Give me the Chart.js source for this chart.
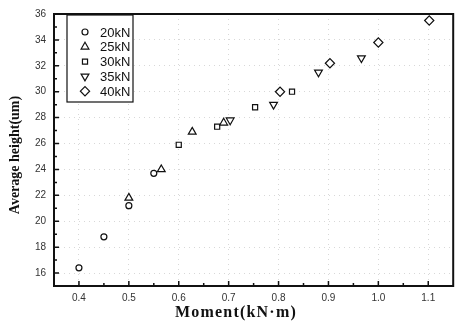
<!DOCTYPE html>
<html>
<head>
<meta charset="utf-8">
<script src="https://cdn.jsdelivr.net/npm/chart.js@4"></script>
<style>
  html, body { margin: 0; padding: 0; background: #fff; }
  #wrap { width: 459px; height: 324px; }
</style>
</head>
<body>
<div id="wrap"><canvas id="chart"></canvas></div>
<script>
// values
const seriesNames = ["20kN", "25kN", "30kN", "35kN", "40kN"];
const kn20 = [[0.40, 16.4], [0.45, 18.8], [0.50, 21.2], [0.55, 23.7]];
const kn25 = [[0.50, 21.8], [0.565, 24.0], [0.627, 26.9], [0.69, 27.6]];
const kn30 = [[0.60, 25.9], [0.677, 27.3], [0.753, 28.8], [0.827, 30.0]];
const kn35 = [[0.703, 27.8], [0.79, 29.0], [0.88, 31.5], [0.966, 32.6]];
const kn40 = [[0.803, 30.0], [0.903, 32.2], [1.00, 33.8], [1.102, 35.5]];
const xTicks = [0.4, 0.5, 0.6, 0.7, 0.8, 0.9, 1.0, 1.1];
const yTicks = [16, 18, 20, 22, 24, 26, 28, 30, 32, 34, 36];

const styles = [
  { pointStyle: "circle", radius: 3, rotation: 0 },
  { pointStyle: "triangle", radius: 4.5, rotation: 0 },
  { pointStyle: "rect", radius: 3.6, rotation: 0 },
  { pointStyle: "triangle", radius: 4.5, rotation: 180 },
  { pointStyle: "rectRot", radius: 4.6, rotation: 0 }
];

const toPts = arr => arr.map(p => ({ x: p[0], y: p[1] }));
const allData = [kn20, kn25, kn30, kn35, kn40];

const datasets = allData.map((d, i) => ({
  label: seriesNames[i],
  data: toPts(d),
  showLine: false,
  pointStyle: styles[i].pointStyle,
  pointRadius: styles[i].radius,
  pointRotation: styles[i].rotation,
  pointBorderColor: "#111",
  pointBackgroundColor: "#fff",
  pointBorderWidth: 1.2
}));

// frame, inward ticks, titles and legend box
const decor = {
  id: "decor",
  afterDatasetsDraw(chart) {
    const { ctx, chartArea: a, scales: { x, y } } = chart;
    ctx.save();
    ctx.strokeStyle = "#111";
    ctx.lineWidth = 1.5;
    ctx.beginPath();
    // major + minor ticks x
    xTicks.forEach(v => {
      const px = x.getPixelForValue(v);
      ctx.moveTo(px, a.bottom); ctx.lineTo(px, a.bottom - 5);
      const pm = x.getPixelForValue(v + 0.05);
      if (pm < a.right - 2) { ctx.moveTo(pm, a.bottom); ctx.lineTo(pm, a.bottom - 3); }
    });
    yTicks.forEach(v => {
      const py = y.getPixelForValue(v);
      ctx.moveTo(a.left, py); ctx.lineTo(a.left + 5, py);
      const pm = y.getPixelForValue(v - 1);
      ctx.moveTo(a.left, pm); ctx.lineTo(a.left + 3, pm);
    });
    ctx.stroke();

    ctx.lineWidth = 2;
    ctx.strokeRect(a.left, a.top, a.right - a.left, a.bottom - a.top);

    // legend
    ctx.lineWidth = 1.2;
    ctx.fillStyle = "#fff";
    ctx.fillRect(67, 15, 66, 87);
    ctx.strokeStyle = "#111";
    ctx.strokeRect(67, 15, 66, 87);
    ctx.font = "13px 'Liberation Sans', Arial, sans-serif";
    ctx.textBaseline = "middle";
    ctx.textAlign = "left";
    const drawPoint = Chart.helpers && Chart.helpers.drawPoint;
    seriesNames.forEach((name, i) => {
      const ry = 32 + i * 14.8;
      ctx.fillStyle = "#fff";
      ctx.strokeStyle = "#111";
      ctx.lineWidth = 1.2;
      if (drawPoint) {
        drawPoint(ctx, {
          pointStyle: styles[i].pointStyle,
          radius: styles[i].radius,
          rotation: styles[i].rotation,
          borderWidth: 1.2
        }, 85, ry);
      }
      ctx.fillStyle = "#111";
      ctx.fillText(name, 100, ry + 1);
    });

    // axis titles
    ctx.fillStyle = "#111";
    ctx.font = "bold 16px 'Liberation Serif', 'Times New Roman', serif";
    ctx.textAlign = "center";
    ctx.textBaseline = "middle";
    ctx.letterSpacing = "1.2px";
    ctx.fillText("Moment(kN·m)", 236, 313);
    ctx.letterSpacing = "0px";
    ctx.font = "bold 14px 'Liberation Serif', 'Times New Roman', serif";
    ctx.translate(15, 155);
    ctx.rotate(-Math.PI / 2);
    ctx.fillText("Average height(um)", 0, 0);
    ctx.restore();
  }
};

new Chart(document.getElementById("chart"), {
  type: "scatter",
  data: { datasets },
  plugins: [decor],
  options: {
    responsive: true,
    maintainAspectRatio: false,
    animation: false,
    layout: { padding: { top: 13, right: 2, left: 0, bottom: 0 } },
    plugins: { legend: { display: false }, tooltip: { enabled: false } },
    scales: {
      x: {
        type: "linear",
        min: 0.35,
        max: 1.15,
        afterBuildTicks: s => { s.ticks = xTicks.map(v => ({ value: v })); },
        afterFit: s => { s.height = 38; },
        grid: { color: "#d8d8d8", lineWidth: 1, drawTicks: false },
        border: { display: false, dash: [1, 4] },
        ticks: {
          padding: 6,
          color: "#333",
          font: { family: "'Liberation Sans', Arial, sans-serif", size: 10 },
          callback: v => v.toFixed(1)
        }
      },
      y: {
        type: "linear",
        min: 15,
        max: 36,
        afterBuildTicks: s => { s.ticks = yTicks.map(v => ({ value: v })); },
        afterFit: s => { s.width = 54; },
        grid: { color: "#d8d8d8", lineWidth: 1, drawTicks: false },
        border: { display: false, dash: [1, 4] },
        ticks: {
          padding: 8,
          color: "#333",
          font: { family: "'Liberation Sans', Arial, sans-serif", size: 10 }
        }
      }
    }
  }
});
</script>
</body>
</html>
